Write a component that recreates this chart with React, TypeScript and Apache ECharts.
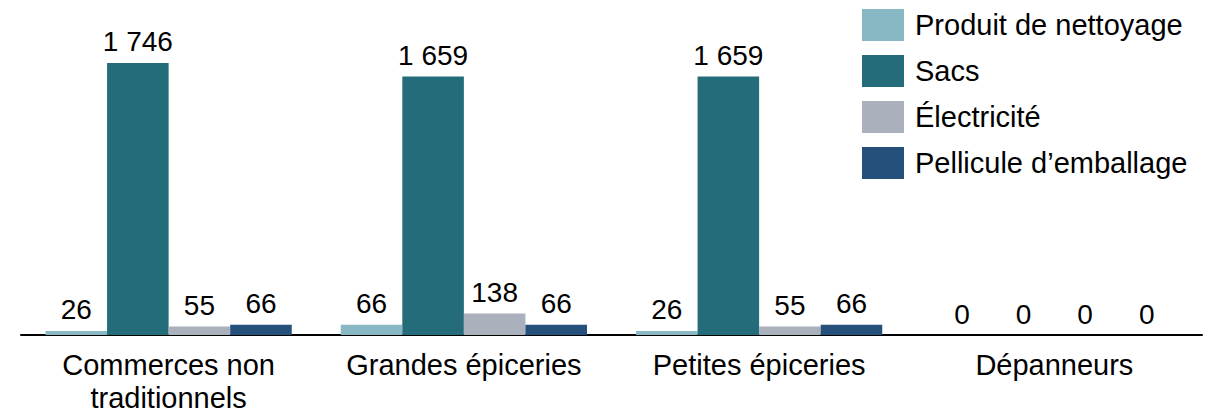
import React, { useEffect, useRef } from "react";
import * as echarts from "echarts";

const categories = ["Commerces non\ntraditionnels", "Grandes épiceries", "Petites épiceries", "Dépanneurs"];
const seriesNames = ["Produit de nettoyage", "Sacs", "Électricité", "Pellicule d’emballage"];
const produitValues = [26, 66, 26, 0];
const sacsValues = [1746, 1659, 1659, 0];
const electriciteValues = [55, 138, 55, 0];
const pelliculeValues = [66, 66, 66, 0];
const colors = ["#88b8c4", "#256c7a", "#aab0bc", "#26507c"];

const FONT = "'Liberation Sans', Arial, sans-serif";

function fmt(v: number): string {
  return String(v).replace(/\B(?=(\d{3})+(?!\d))/g, " ");
}

export default function App() {
  const ref = useRef<HTMLDivElement>(null);
  useEffect(() => {
    document.body.style.margin = "0";
    if (!ref.current) return;
    const chart = echarts.init(ref.current, null, { renderer: "svg" });
    const allValues = [produitValues, sacsValues, electriciteValues, pelliculeValues];
    chart.setOption({
      animation: false,
      grid: { left: 21, right: 14, top: 0, bottom: 79, containLabel: false },
      legend: {
        orient: "vertical",
        left: 862,
        top: 9,
        padding: 0,
        itemWidth: 42,
        itemHeight: 32,
        itemGap: 14,
        icon: "rect",
        textStyle: { fontFamily: FONT, fontSize: 29, color: "#000", padding: [0, 0, 0, 6] },
        data: seriesNames,
      },
      xAxis: {
        type: "category",
        data: categories,
        axisLine: { show: true, lineStyle: { color: "#000", width: 2 } },
        axisTick: { show: false },
        axisLabel: {
          fontFamily: FONT,
          fontSize: 29,
          color: "#000",
          lineHeight: 33,
          margin: 13,
          interval: 0,
        },
      },
      yAxis: {
        type: "value",
        min: 0,
        max: 2150,
        show: false,
        splitLine: { show: false },
      },
      series: seriesNames.map((name, i) => ({
        name,
        type: "bar",
        data: allValues[i],
        barGap: "0%",
        barCategoryGap: "16.6%",
        itemStyle: { color: colors[i] },
        label: {
          show: true,
          position: "top",
          distance: 7,
          fontFamily: FONT,
          fontSize: 28,
          color: "#000",
          formatter: (p: any) => fmt(p.value),
        },
      })),
    });
    return () => chart.dispose();
  }, []);
  return <div ref={ref} style={{ width: 1216, height: 414 }} />;
}
